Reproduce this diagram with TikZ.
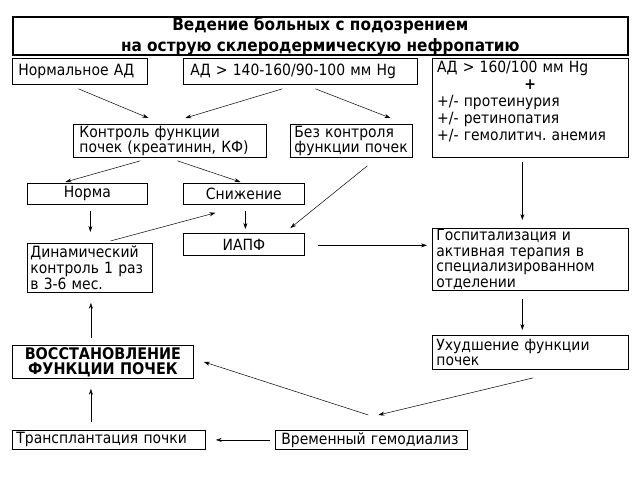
\documentclass[tikz,border=0pt]{standalone}
\usepackage{fontspec}
\setmainfont{DejaVu Sans Condensed}
\usetikzlibrary{arrows.meta}
\begin{document}
\frenchspacing
\begin{tikzpicture}[x=1pt,y=-1pt,
  box/.style={draw,line width=0.8pt,anchor=north west,inner xsep=4pt,inner ysep=0pt,font=\fontsize{15.5}{15.5}\selectfont},
  arr/.style={-{Stealth[length=6pt,width=4pt]},line width=0.5pt}]
\useasboundingbox (0,0) rectangle (640,480);
\node[draw,line width=1.6pt,anchor=north west,minimum width=615pt,minimum height=38pt,align=center,font=\fontsize{17}{21}\selectfont\bfseries,inner sep=0pt] (t) at (12,16) {Ведение больных с подозрением\\на острую склеродермическую нефропатию};
\node[box,minimum width=135pt,minimum height=26pt,text width=127pt,align=left] (n1) at (12,58) {\hspace*{2pt}Нормальное АД};
\node[box,minimum width=234pt,minimum height=26pt,text width=226pt,align=left] (n2) at (183,58) {\hspace*{3pt}АД > 140-160/90-100 мм Hg};
\node[box,minimum width=196pt,minimum height=99pt] (n3) at (432,58) {};
\node[anchor=north west,inner sep=0pt,text width=188pt,align=left,font=\fontsize{15.5}{17}\selectfont] (n3t) at (437,61) {АД > 160/100 мм Hg\\\makebox[186pt]{\textbf{+}}\\+/- протеинурия\\+/- ретинопатия\\+/- гемолитич. анемия};
\node[box,minimum width=193pt,minimum height=33pt,text width=185pt,align=left] (k) at (73,124) {\hspace*{2pt}Контроль функции\\\hspace*{2pt}почек (креатинин, КФ)};
\node[box,minimum width=122pt,minimum height=33pt,text width=114pt,align=left] (b) at (290,124) {Без контроля\\функции почек};
\node[box,minimum width=120pt,minimum height=21pt,text width=112pt,align=center] (norm) at (27,183) {Норма};
\node[box,minimum width=121pt,minimum height=21pt,text width=113pt,align=center] (sn) at (183,183) {Снижение};
\node[box,minimum width=121pt,minimum height=22pt,text width=113pt,align=center] (iapf) at (183,233) {ИАПФ};
\node[box,minimum width=125pt,minimum height=49pt,text width=119pt,inner xsep=3pt,align=left,font=\fontsize{15.5}{16}\selectfont] (dyn) at (27,243) {Динамический\\контроль 1 раз\\в 3-6 мес.};
\node[box,minimum width=196pt,minimum height=62pt,text width=188pt,align=left] (gos) at (432,228) {Госпитализация и\\активная терапия в\\специализированном\\отделении};
\node[box,minimum width=196pt,minimum height=34pt,text width=188pt,align=left,font=\fontsize{15.5}{15}\selectfont] (uh) at (432,335) {Ухудшение функции\\почек};
\node[box,minimum width=181pt,minimum height=33pt,text width=173pt,align=center,font=\fontsize{16}{15}\selectfont\bfseries] (vos) at (12,345) {ВОССТАНОВЛЕНИЕ\\ФУНКЦИИ ПОЧЕК};
\node[box,minimum width=193pt,minimum height=19pt,text width=185pt,align=left] (tr) at (12,430) {Трансплантация почки};
\node[box,minimum width=192pt,minimum height=19pt,text width=184pt,align=left] (vr) at (275,430) {\hspace*{2pt}Временный гемодиализ};
% arrows
\draw[arr] ([xshift=-1.5pt,yshift=-4pt]n1.south) -- ([xshift=-21.5pt,yshift=6pt]k.north);
\draw[arr] ([xshift=-18pt,yshift=-4pt]n2.south) -- ([xshift=15.5pt,yshift=6pt]k.north);
\draw[arr] ([xshift=15pt,yshift=-4pt]n2.south) -- ([xshift=39pt,yshift=6pt]b.north);
\draw[arr] ([xshift=-29.5pt,yshift=-3pt]k.south) -- ([xshift=-22pt,yshift=1pt]norm.north);
\draw[arr] ([xshift=7.5pt,yshift=-3pt]k.south) -- ([xshift=-3.5pt,yshift=1pt]sn.north);
\draw[arr] ([xshift=16pt,yshift=-8pt]b.south) -- ([xshift=46.5pt,yshift=5pt]iapf.north);
\draw[arr] ([xshift=3pt,yshift=-6pt]norm.south) -- ([xshift=3pt,yshift=11pt]norm.south|-dyn.north);
\draw[arr] ([xshift=1.5pt,yshift=-6pt]sn.south) -- ([xshift=1.5pt,yshift=4pt]iapf.north);
\draw[arr] ([xshift=20.5pt,yshift=2pt]dyn.north) -- ([xshift=-28.5pt,yshift=-8pt]sn.south);
\draw[arr] ([xshift=13pt,yshift=-1pt]iapf.east) -- ([xshift=-5pt,yshift=-1pt]gos.west|-iapf.east);
\draw[arr] ([xshift=-8pt,yshift=-4pt]n3.south) -- ([xshift=-8pt,yshift=8pt]gos.north);
\draw[arr] ([xshift=-8pt,yshift=-8pt]gos.south) -- ([xshift=-8pt,yshift=5pt]uh.north);
\draw[arr] ([xshift=3pt,yshift=-8pt]uh.south) -- ([xshift=7pt,yshift=15pt]vr.north);
\draw[arr] ([xshift=-3pt,yshift=15pt]vr.north) -- ([xshift=10pt]vos.east);
\draw[arr] ([xshift=-5pt]vr.west) -- ([xshift=10pt]tr.east);
\draw[arr] ([xshift=-12pt,yshift=8pt]vos.south|-tr.north) -- ([xshift=-12pt,yshift=-10pt]vos.south);
\draw[arr] ([xshift=-12pt,yshift=7pt]vos.north) -- ([xshift=-12pt,yshift=-10pt]vos.north|-dyn.south);
\end{tikzpicture}
\end{document}
